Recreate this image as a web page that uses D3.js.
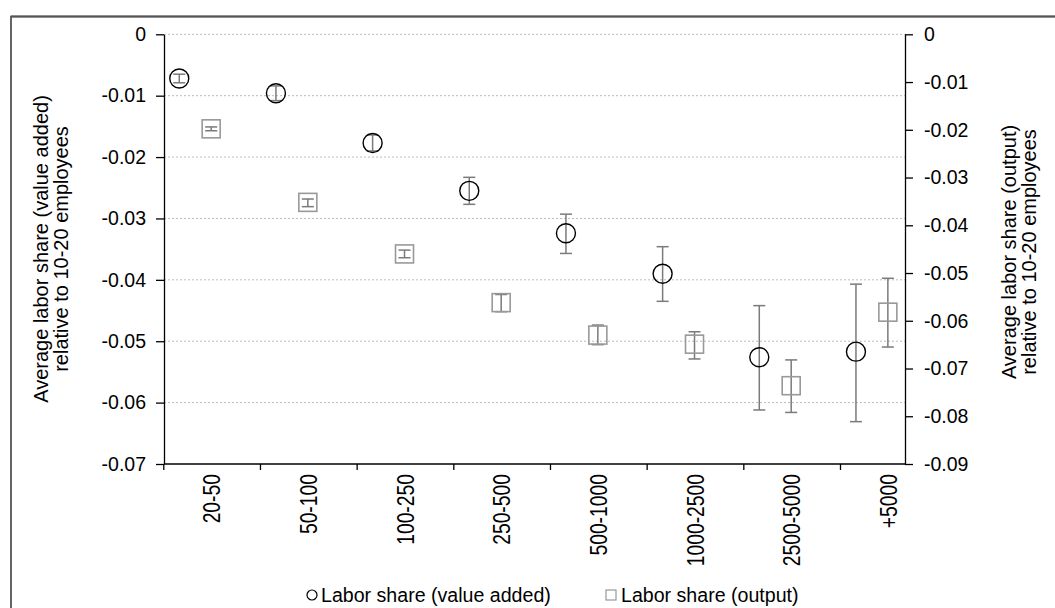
<!DOCTYPE html>
<html><head><meta charset="utf-8">
<script src="https://cdn.jsdelivr.net/npm/d3@7"></script>
<style>
html,body{margin:0;padding:0;background:#fff;}
svg{display:block;font-family:"Liberation Sans",Arial,sans-serif;}
</style></head>
<body>
<svg id="chart" width="1055" height="608"></svg>
<script>
const categories = ["20-50","50-100","100-250","250-500","500-1000","1000-2500","2500-5000","+5000"];
const vaMean = [-0.0072,-0.0096,-0.0177,-0.0255,-0.0324,-0.0390,-0.0526,-0.0517];
const vaLow  = [-0.0079,-0.0108,-0.0190,-0.0277,-0.0357,-0.0435,-0.0612,-0.0631];
const vaHigh = [-0.0065,-0.0084,-0.0164,-0.0233,-0.0293,-0.0346,-0.0442,-0.0407];
const outMean = [-0.0198,-0.0352,-0.0460,-0.0562,-0.0630,-0.0649,-0.0736,-0.0582];
const outLow  = [-0.0202,-0.0361,-0.0468,-0.0581,-0.0650,-0.0680,-0.0792,-0.0655];
const outHigh = [-0.0194,-0.0345,-0.0452,-0.0545,-0.0609,-0.0623,-0.0682,-0.0511];
const leftTicks = [0,-0.01,-0.02,-0.03,-0.04,-0.05,-0.06,-0.07];
const rightTicks = [0,-0.01,-0.02,-0.03,-0.04,-0.05,-0.06,-0.07,-0.08,-0.09];
const leftTitle = ["Average labor share (value added)","relative to 10-20 employees"];
const rightTitle = ["Average labor share (output)","relative to 10-20 employees"];
const legendLabels = ["Labor share (value added)","Labor share (output)"];

const svg = d3.select("#chart");
const L = 164, R = 905, T = 34.3, B = 464;
const fmt = d => d === 0 ? "0" : d.toFixed(2);

// frame
svg.append("rect").attr("x",11).attr("y",16.5).attr("width",1100).attr("height",700)
  .attr("fill","none").attr("stroke","#333").attr("stroke-width",1.5);
svg.append("line").attr("x1",11).attr("x2",1055).attr("y1",16.5).attr("y2",16.5)
  .attr("stroke","#555").attr("stroke-width",2);

const x = d3.scaleBand().domain(categories).range([163.8, 163.8 + 8*96.67]).padding(0);
const bw = x.bandwidth();
const yL = d3.scaleLinear().domain([-0.07,0]).range([B,T]);
const yR = d3.scaleLinear().domain([-0.09,0]).range([B,T]);

// grid
svg.append("g").selectAll("line").data(leftTicks.filter(d=>d>-0.07)).join("line")
  .attr("x1",L).attr("x2",R).attr("y1",d=>yL(d)).attr("y2",d=>yL(d))
  .attr("stroke","#bbb").attr("stroke-width",1).attr("stroke-dasharray","2,2");

// left axis
const gL = svg.append("g").attr("transform",`translate(${L},0)`)
  .call(d3.axisLeft(yL).tickValues(leftTicks).tickFormat(fmt).tickSize(8).tickPadding(10).tickSizeOuter(0));
gL.select(".domain").attr("stroke","#000").attr("stroke-width",1.3);
gL.selectAll(".tick line").attr("stroke","#000").attr("stroke-width",1.3);
gL.selectAll("text").attr("font-size",19.5).attr("fill","#000").attr("font-family","Liberation Sans, Arial, sans-serif");

// right axis
const gR = svg.append("g").attr("transform",`translate(${R},0)`)
  .call(d3.axisRight(yR).tickValues(rightTicks).tickFormat(fmt).tickSize(8).tickPadding(11).tickSizeOuter(0));
gR.select(".domain").attr("stroke","#000").attr("stroke-width",1.3);
gR.selectAll(".tick line").attr("stroke","#000").attr("stroke-width",1.3);
gR.selectAll("text").attr("font-size",19.5).attr("fill","#000").attr("font-family","Liberation Sans, Arial, sans-serif");

// x axis
svg.append("line").attr("x1",L).attr("x2",R).attr("y1",B).attr("y2",B)
  .attr("stroke","#000").attr("stroke-width",1.3);
svg.append("g").selectAll("line").data(categories).join("line")
  .attr("x1",d=>x(d)).attr("x2",d=>x(d)).attr("y1",B).attr("y2",B+6)
  .attr("stroke","#000").attr("stroke-width",1.3);
svg.append("g").selectAll("text").data(categories).join("text")
  .attr("transform",d=>`translate(${x(d)+bw*0.5},474) rotate(-90) scale(0.84,1)`)
  .attr("text-anchor","end").attr("dy","0.36em")
  .attr("font-size",23).attr("fill","#000").text(d=>d);

// error bars + markers
const cx = i => x(categories[i]) + bw*0.16;
const sx = i => x(categories[i]) + bw*0.49;
const cap = 6;
const eb = svg.append("g").attr("stroke","#7a7a7a").attr("stroke-width",1.5).attr("fill","none");
categories.forEach((c,i)=>{
  const X = cx(i);
  eb.append("line").attr("x1",X).attr("x2",X).attr("y1",yL(vaLow[i])).attr("y2",yL(vaHigh[i]));
  eb.append("line").attr("x1",X-cap).attr("x2",X+cap).attr("y1",yL(vaLow[i])).attr("y2",yL(vaLow[i]));
  eb.append("line").attr("x1",X-cap).attr("x2",X+cap).attr("y1",yL(vaHigh[i])).attr("y2",yL(vaHigh[i]));
  const X2 = sx(i);
  eb.append("line").attr("x1",X2).attr("x2",X2).attr("y1",yR(outLow[i])).attr("y2",yR(outHigh[i]));
  eb.append("line").attr("x1",X2-cap).attr("x2",X2+cap).attr("y1",yR(outLow[i])).attr("y2",yR(outLow[i]));
  eb.append("line").attr("x1",X2-cap).attr("x2",X2+cap).attr("y1",yR(outHigh[i])).attr("y2",yR(outHigh[i]));
});
svg.append("g").selectAll("circle").data(vaMean).join("circle")
  .attr("cx",(d,i)=>cx(i)).attr("cy",d=>yL(d)).attr("r",9.5)
  .attr("fill","none").attr("stroke","#000").attr("stroke-width",1.4);
const sq = 18;
svg.append("g").selectAll("rect").data(outMean).join("rect")
  .attr("x",(d,i)=>sx(i)-sq/2).attr("y",d=>yR(d)-sq/2).attr("width",sq).attr("height",sq)
  .attr("fill","none").attr("stroke","#999").attr("stroke-width",1.6);

// axis titles
const tl = svg.append("text").attr("transform",`translate(48,249) rotate(-90)`)
  .attr("text-anchor","middle").attr("font-size",20).attr("fill","#000");
tl.append("tspan").attr("x",0).attr("y",0).text(leftTitle[0]);
tl.append("tspan").attr("x",0).attr("y",20).text(leftTitle[1]);
const tr = svg.append("text").attr("transform",`translate(1016,252) rotate(-90)`)
  .attr("text-anchor","middle").attr("font-size",20).attr("fill","#000");
tr.append("tspan").attr("x",0).attr("y",0).text(rightTitle[0]);
tr.append("tspan").attr("x",0).attr("y",20).text(rightTitle[1]);

// legend
const ly = 595;
const lg = svg.append("g");
lg.append("circle").attr("cx",312).attr("cy",ly).attr("r",5).attr("fill","none").attr("stroke","#000").attr("stroke-width",1.2);
lg.append("text").attr("x",321).attr("y",ly).attr("dy","0.35em").attr("font-size",19.6).attr("fill","#000").text(legendLabels[0]);
lg.append("rect").attr("x",606).attr("y",ly-5).attr("width",10).attr("height",10).attr("fill","none").attr("stroke","#999").attr("stroke-width",1.2);
lg.append("text").attr("x",621).attr("y",ly).attr("dy","0.35em").attr("font-size",19.6).attr("fill","#000").text(legendLabels[1]);
</script>
</body></html>
